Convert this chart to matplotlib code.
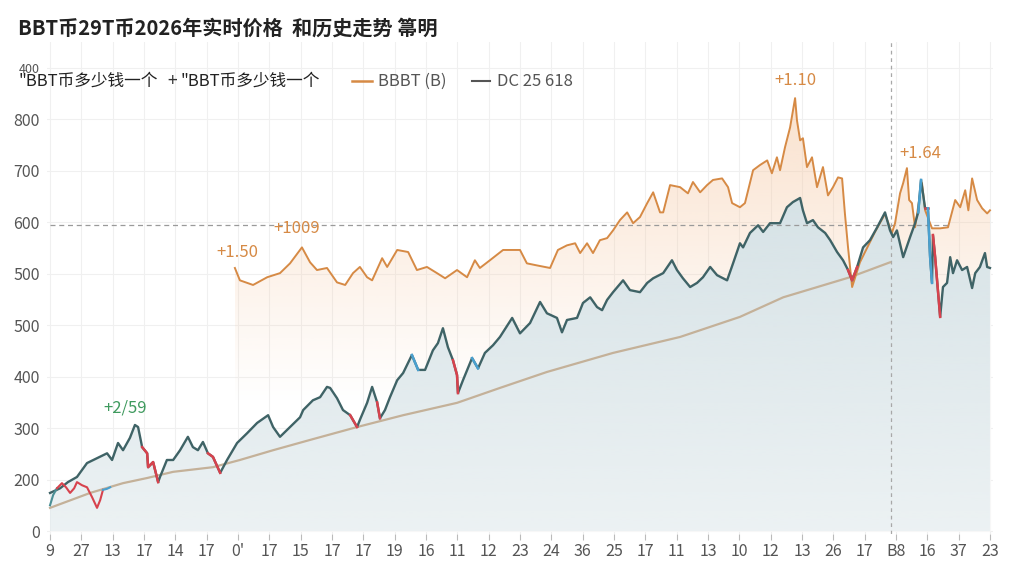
import numpy as np
import matplotlib
matplotlib.use('Agg')
import matplotlib.pyplot as plt
from matplotlib.colors import to_rgb
from matplotlib.lines import Line2D

plt.rcParams['font.family'] = ['Noto Sans CJK SC', 'DejaVu Sans']

# x positions are in tick units (0 = first tick, 30 = last tick)
x_labels = ['9', '27', '13', '17', '14', '17', "0'", '17', '15', '17', '17', '19', '16', '11', '12',
            '23', '24', '36', '25', '17', '11', '13', '10', '12', '13', '26', '17', 'B8', '16', '37', '23']
y_ticks = [0, 100, 200, 300, 400, 500, 600, 700, 800, 900]
y_labels = ['0', '200', '300', '400', '500', '500', '600', '700', '800', '400']

# DC 25 618 (dark line)
dark_x = [0.00, 0.32, 0.57, 0.86, 1.18, 1.82, 1.98, 2.17, 2.33, 2.55, 2.71, 2.81, 2.94, 3.10, 3.13,
          3.29, 3.45, 3.51, 3.73, 3.93, 4.15, 4.40, 4.56, 4.72, 4.88, 5.04, 5.20, 5.43, 5.65, 5.97,
          6.29, 6.61, 6.96, 7.12, 7.34, 7.66, 7.98, 8.08, 8.39, 8.62, 8.84, 8.94, 9.16, 9.35, 9.58,
          9.80, 9.89, 10.12, 10.28, 10.44, 10.53, 10.69, 10.85, 11.08, 11.27, 11.55, 11.75, 11.97,
          12.22, 12.38, 12.54, 12.70, 12.86, 12.99, 13.02, 13.18, 13.47, 13.66, 13.88, 14.14, 14.36,
          14.75, 15.00, 15.32, 15.64, 15.86, 16.18, 16.34, 16.50, 16.82, 17.01, 17.24, 17.46, 17.62,
          17.78, 17.97, 18.29, 18.51, 18.83, 19.06, 19.25, 19.57, 19.85, 20.01, 20.20, 20.43, 20.65,
          20.84, 21.07, 21.29, 21.61, 21.80, 22.02, 22.12, 22.34, 22.60, 22.76, 22.98, 23.30, 23.52,
          23.71, 23.94, 24.03, 24.16, 24.35, 24.51, 24.74, 24.90, 25.12, 25.31, 25.47, 25.60, 25.76,
          25.95, 26.17, 26.40, 26.65, 26.81, 26.91, 27.03, 27.23, 27.45, 27.61, 27.71, 27.80, 27.86,
          27.93, 28.02, 28.09, 28.15, 28.18, 28.25, 28.41, 28.50, 28.63, 28.73, 28.82, 28.95, 29.11,
          29.27, 29.43, 29.53, 29.68, 29.84, 29.91, 30.00]
dark_y = [74, 83, 95, 105, 132, 151, 138, 171, 157, 181, 206, 202, 163, 151, 124,
          134, 95, 105, 138, 138, 157, 183, 163, 157, 173, 151, 144, 113, 138, 171,
          190, 210, 225, 202, 183, 202, 221, 235, 254, 260, 280, 278, 258, 235, 225,
          202, 216, 249, 280, 250, 219, 235, 260, 293, 307, 342, 313, 313,
          351, 365, 394, 357, 332, 303, 268, 293, 336, 316, 346, 361, 377,
          414, 384, 404, 445, 423, 414, 386, 410, 414, 443, 454, 435, 429,
          449, 464, 487, 468, 464, 482, 491, 501, 526, 507, 491, 474, 482,
          493, 513, 497, 487, 520, 559, 551, 579, 594, 581, 598, 598, 629,
          639, 647, 623, 598, 604, 590, 579, 565, 542, 526, 507, 487, 513,
          551, 565, 590, 619, 584, 571, 584, 532, 571, 598, 619, 682, 656,
          627, 627, 532, 482, 575, 532, 416, 474, 482, 532, 501, 526, 507,
          513, 472, 501, 513, 540, 513, 511]

# BBBT (B) (orange line)
orange_x = [5.90, 6.06, 6.48, 6.93, 7.34, 7.66, 8.04, 8.30, 8.52, 8.84, 9.16, 9.42, 9.67, 9.89,
            10.12, 10.28, 10.60, 10.76, 11.08, 11.43, 11.71, 12.03, 12.35, 12.61, 12.99, 13.31,
            13.56, 13.72, 14.04, 14.46, 15.00, 15.22, 15.54, 15.96, 16.21, 16.50, 16.76, 16.92,
            17.14, 17.33, 17.55, 17.78, 17.97, 18.19, 18.42, 18.61, 18.83, 19.06, 19.25, 19.47,
            19.57, 19.79, 20.11, 20.36, 20.52, 20.75, 20.97, 21.16, 21.45, 21.64, 21.77, 22.02,
            22.18, 22.44, 22.66, 22.89, 23.04, 23.20, 23.30, 23.46, 23.62, 23.78, 23.84, 23.94,
            24.03, 24.16, 24.32, 24.48, 24.67, 24.83, 24.99, 25.15, 25.28, 25.37, 25.47, 25.60,
            25.85, 26.33, 26.65, 26.87, 26.97, 27.13, 27.23, 27.35, 27.42, 27.51, 27.61, 27.77,
            27.83, 27.93, 28.15, 28.41, 28.66, 28.89, 29.05, 29.21, 29.31, 29.43, 29.59, 29.75,
            29.91, 30.00]
orange_y = [511, 487, 478, 493, 501, 520, 551, 522, 507, 511, 483, 478, 501, 513,
            493, 487, 530, 513, 546, 542, 507, 513, 501, 491, 507, 493,
            526, 511, 526, 546, 546, 520, 516, 511, 546, 555, 559, 540,
            559, 540, 565, 569, 584, 604, 619, 598, 610, 637, 658, 619,
            619, 672, 668, 656, 678, 658, 672, 682, 685, 668, 637, 629,
            637, 701, 711, 720, 695, 726, 701, 746, 784, 841, 798, 759,
            763, 707, 726, 668, 707, 652, 668, 687, 685, 617, 551, 474,
            522, 581, 616, 579, 598, 656, 676, 705, 643, 637, 590, 656,
            676, 623, 588, 588, 590, 643, 629, 662, 623, 685, 643, 627,
            617, 623]

# smooth trend line
trend_x = [0.00, 1.28, 2.33, 3.10, 3.93, 5.20, 6.06, 7.12, 8.30, 9.80, 11.27, 12.99, 14.36,
           15.86, 17.97, 20.11, 22.02, 23.40, 25.53, 26.81]
trend_y = [45, 74, 93, 103, 115, 124, 138, 157, 177, 202, 225, 249, 278,
           309, 346, 377, 416, 454, 493, 522]

# short red series at the start
early_x = [0.00, 0.10, 0.22, 0.38, 0.51, 0.64, 0.77, 0.86, 1.02, 1.18, 1.34, 1.50, 1.60, 1.69, 1.82, 1.92]
early_y = [50, 70, 83, 93, 85, 74, 83, 95, 89, 85, 66, 45, 60, 80, 82, 85]

red_spans = [(2.94, 3.45), (5.04, 5.43), (9.58, 9.80), (10.44, 10.53), (12.86, 13.02),
             (25.47, 25.76), (27.93, 28.02), (28.18, 28.41)]
blue_spans = [(11.55, 11.75), (13.47, 13.66), (27.71, 27.80), (28.02, 28.15)]

ref_level = 595
ref_end = 28.66
split_x = 26.84

annotations = [('+2/59', 2.39, 239, '#3f9a5e'), ('+1.50', 5.97, 542, '#d68a45'),
               ('+1009', 7.88, 588, '#d68a45'), ('+1.10', 23.78, 876, '#d68a45'),
               ('+1.64', 27.77, 734, '#d68a45')]

YMAX = 950


def gradient_fill(ax, x, y, color, v0, v1, a0, a1, z):
    x = np.asarray(x)
    poly = ax.fill_between(x, y, 0, facecolor='none', edgecolor='none')
    vals = np.linspace(0, YMAX, 400)
    img = np.zeros((400, 1, 4))
    img[..., :3] = to_rgb(color)
    img[:, 0, 3] = np.interp(vals, [v0, v1], [a0, a1])
    im = ax.imshow(img, aspect='auto', origin='lower', extent=[x.min(), x.max(), 0, YMAX], zorder=z)
    im.set_clip_path(poly.get_paths()[0], transform=ax.transData)


fig = plt.figure(figsize=(10.24, 5.76), dpi=100)
ax = fig.add_axes([46.9 / 1024, 1 - 533.6 / 576, 946.2 / 1024, 491.6 / 576])

gradient_fill(ax, orange_x, orange_y, '#f6c9a4', 250, 850, 0.0, 0.55, 1.0)
ax.fill_between(dark_x, dark_y, 0, color='white', lw=0, zorder=1.4)
gradient_fill(ax, dark_x, dark_y, '#c9d9de', 0, 650, 0.35, 0.75, 1.5)

ax.hlines(ref_level, 0, ref_end, colors='#9a9a9a', linestyles=(0, (4, 3)), lw=0.9, zorder=2)
ax.axvline(split_x, color='#a8a8a8', ls=(0, (3, 3)), lw=0.9, zorder=2)

ax.plot(trend_x, trend_y, color='#c4b199', lw=1.6, zorder=3)
ax.plot(orange_x, orange_y, color='#d68a45', lw=1.4, zorder=4)
ax.plot(dark_x, dark_y, color='#3f6366', lw=1.7, zorder=5)

dx = np.array(dark_x)
dy = np.array(dark_y)
for spans, col in [(red_spans, '#d7424d'), (blue_spans, '#4aa0cf')]:
    for a, b in spans:
        m = (dx >= a - 1e-6) & (dx <= b + 1e-6)
        ax.plot(dx[m], dy[m], color=col, lw=1.8, zorder=6)

ax.plot(early_x[:3], early_y[:3], color='#4a8f95', lw=1.5, zorder=6)
ax.plot(early_x[2:-2], early_y[2:-2], color='#d7424d', lw=1.5, zorder=6)
ax.plot(early_x[-3:], early_y[-3:], color='#4aa0cf', lw=1.5, zorder=6)

for txt, x, y, col in annotations:
    ax.text(x, y, txt, color=col, fontsize=12, ha='center', va='center', zorder=7)

ax.set_xlim(-0.1, 30.1)
ax.set_ylim(-5, YMAX)
ax.set_xticks(range(len(x_labels)))
ax.set_xticklabels(x_labels)
ax.set_yticks(y_ticks)
ax.set_yticklabels(y_labels)
ax.tick_params(axis='x', colors='#bbbbbb', labelcolor='#555555', labelsize=11.5, length=4, pad=3)
ax.tick_params(axis='y', length=0, labelcolor='#555555', labelsize=11.5, pad=5)
ax.get_yticklabels()[-1].set_fontsize(9)
ax.grid(True, color='#f0f0f0', lw=0.8, zorder=0)
ax.set_axisbelow(True)
for s in ax.spines.values():
    s.set_visible(False)

# title and legend row
fig.text(18 / 1024, 1 - 28 / 576, 'BBT币29T币2026年实时价格  和历史走势 箒明', fontsize=14.5,
         fontweight='bold', color='#222222', va='center')
ly = 1 - 81 / 576
fig.text(18 / 1024, ly, '"BBT币多少钱一个', fontsize=12, color='#222222', va='center')
fig.text(167 / 1024, ly, '+', fontsize=12.5, color='#333333', va='center')
fig.text(180 / 1024, ly, '"BBT币多少钱一个', fontsize=12, color='#222222', va='center')
fig.add_artist(Line2D([352 / 1024, 372 / 1024], [ly, ly], color='#d68a45', lw=1.8, transform=fig.transFigure))
fig.text(378 / 1024, ly, 'BBBT (B)', fontsize=12, color='#555555', va='center')
fig.add_artist(Line2D([472 / 1024, 490 / 1024], [ly, ly], color='#555555', lw=1.5, transform=fig.transFigure))
fig.text(497 / 1024, ly, 'DC 25 618', fontsize=12, color='#555555', va='center')

fig.savefig('out.png', dpi=100)
